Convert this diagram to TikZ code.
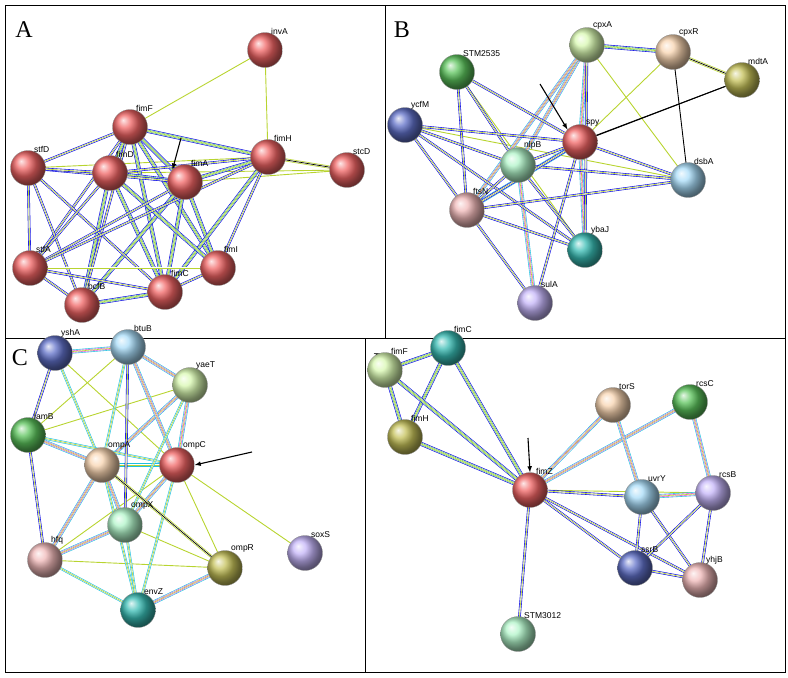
\documentclass[tikz,border=0pt]{standalone}
\usepackage{fontspec}
\setmainfont{Liberation Serif}
\newfontfamily\labfont{Liberation Sans}
\begin{document}
\definecolor{cR}{HTML}{F06464}\definecolor{cLG}{HTML}{D8F8B0}\definecolor{cTan}{HTML}{F8D4B0}
\definecolor{cOl}{HTML}{C4C058}\definecolor{cG}{HTML}{5CC45C}\definecolor{cNv}{HTML}{6070C8}
\definecolor{cMint}{HTML}{B0F4C8}\definecolor{cLB}{HTML}{A8DCF8}\definecolor{cPk}{HTML}{F0B8B8}
\definecolor{cTl}{HTML}{38BCB4}\definecolor{cLv}{HTML}{C4B4F8}
\definecolor{tm}{HTML}{B8D430}\definecolor{co}{HTML}{0000E0}\definecolor{nb}{HTML}{20B040}
\definecolor{ex}{HTML}{D020D0}\definecolor{db}{HTML}{20C0E0}
\begin{tikzpicture}[x=1pt,y=-1pt,
 ball/.style={circle,minimum size=35pt,inner sep=0pt,draw=black!45,line width=0.3pt,ball color=#1},
 lab/.style={font=\labfont\fontsize{8.5}{9}\selectfont,inner sep=0pt,anchor=south west},
 ey/.style={draw=tm,line width=0.9pt},
 eb/.style={draw=co,line width=0.9pt},
 ek/.style={draw=black,line width=0.9pt},
 eky/.style={draw=tm,line width=3pt,postaction={draw=white,line width=1.6pt},postaction={draw=black,line width=0.7pt}},
 mb/.style={draw=co,line width=4pt,postaction={draw=white,line width=2.8pt},postaction={draw=nb,line width=2pt},postaction={draw=white,line width=1.2pt},postaction={draw=tm,line width=0.6pt}},
 mc/.style={draw=db,line width=4pt,postaction={draw=white,line width=2.8pt},postaction={draw=ex,line width=2pt},postaction={draw=white,line width=1.2pt},postaction={draw=tm,line width=0.6pt}},
 by/.style={draw=co,line width=2.6pt,postaction={draw=white,line width=1.4pt},postaction={draw=tm,line width=0.6pt}},
 cy/.style={draw=db,line width=2.6pt,postaction={draw=white,line width=1.4pt},postaction={draw=tm,line width=0.6pt}},
 arr/.style={-latex,line width=1.1pt}]
\useasboundingbox (0,0) rectangle (788,678);
\draw[line width=0.6pt] (5,5) rectangle (785,672);
\draw[line width=0.6pt] (385,5) -- (385,338) (5,338) -- (785,338) (365,338) -- (365,672);
\node[font=\fontsize{24}{24}\selectfont] at (24,30) {A};
\node[font=\fontsize{24}{24}\selectfont] at (402,30) {B};
\node[font=\fontsize{24}{24}\selectfont] at (20,358) {C};
\node[font=\fontsize{24}{24}\selectfont] at (382,362) {D};
% ---------- A
\foreach \n/\x/\y in {invA/265/50,fimF/130/127,fimH/268/157,stfD/28/168,fimD/110/173,fimA/185/182,stcD/347/170,stfA/30/268,fimI/218/268,fimC/165/292,bcfB/82/305}
 \coordinate (\n) at (\x,\y);
\foreach \a/\b in {invA/fimF,invA/fimH,fimA/stcD,fimD/stcD,stfD/fimH}\draw[ey] (\a)--(\b);
\draw[eky] (fimH)--(stcD);
\foreach \a/\b in {fimF/fimH,fimF/fimA,fimF/fimD,fimF/fimC,fimF/fimI,fimD/fimA,fimD/fimC,fimA/fimH,fimA/fimC,fimA/fimI,fimD/bcfB,fimA/bcfB,fimH/fimC,fimD/fimI,fimC/bcfB}\draw[mb] (\a)--(\b);
\foreach \a/\b in {fimF/stfD,fimF/stfA,fimF/bcfB,stfD/fimA,stfD/fimD,stfD/stfA,stfD/bcfB,stfD/fimC,fimD/stfA,fimD/fimH,fimA/stfA,fimH/fimI,stfA/fimC,stfA/bcfB,stfA/fimI,fimC/fimI,fimH/stfA}\draw[by] (\a)--(\b);
\foreach \n in {invA,fimF,fimH,stfD,fimD,fimA,stcD,stfA,fimI,fimC,bcfB}{
 \node[ball=cR] (b\n) at (\n) {};
 \node[lab] (l\n) at ([xshift=6pt,yshift=-2pt]b\n.north) {\n};}
\coordinate (aA) at (181,138);
\draw[arr] (aA) -- (bfimA.north west);
% ---------- B
\foreach \n/\x/\y in {cpxA/587/45,cpxR/673/52,mdtA/742/80,STM2535/457/72,ycfM/405/125,spy/580/142,nlpB/518/165,dsbA/688/180,ftsN/467/210,ybaJ/585/250,sulA/535/303}
 \coordinate (\n) at (\x,\y);
\foreach \a/\b in {cpxR/spy,cpxA/dsbA,ycfM/dsbA,STM2535/ybaJ}\draw[ey] (\a)--(\b);
\foreach \a/\b in {mdtA/spy,cpxR/dsbA,mdtA/nlpB}\draw[ek] (\a)--(\b);
\draw[eky] (cpxR)--(mdtA);
\draw[mb] (cpxA)--(cpxR);
\foreach \a/\b in {cpxA/nlpB,cpxA/ftsN,cpxA/spy,spy/ybaJ,spy/ftsN,nlpB/sulA}\draw[mc] (\a)--(\b);
\foreach \a/\b in {cpxA/ybaJ,STM2535/spy,STM2535/nlpB,STM2535/ftsN,ycfM/spy,ycfM/nlpB,ycfM/ftsN,ycfM/ybaJ,spy/nlpB,spy/dsbA,spy/sulA,nlpB/dsbA,nlpB/ftsN,nlpB/ybaJ,ftsN/dsbA,ftsN/ybaJ,ftsN/sulA,ftsN/spy}\draw[by] (\a)--(\b);
\foreach \n/\c in {cpxA/cLG,cpxR/cTan,mdtA/cOl,STM2535/cG,ycfM/cNv,spy/cR,nlpB/cMint,dsbA/cLB,ftsN/cPk,ybaJ/cTl,sulA/cLv}{
 \node[ball=\c] (b\n) at (\n) {};
 \node[lab] (l\n) at ([xshift=6pt,yshift=-2pt]b\n.north) {\n};}
\coordinate (aB) at (540,84);
\draw[arr] (aB) -- (bspy.north west);
% ---------- C
\foreach \n/\x/\y in {yshA/55/353,btuB/128/347,yaeT/190/385,lamB/28/435,ompA/102/465,ompC/177/465,soxS/305/553,ompX/125/525,hfq/45/560,ompR/225/568,envZ/138/610}
 \coordinate (\n) at (\x,\y);
\foreach \a/\b in {yshA/lamB,lamB/hfq,lamB/yaeT,ompC/soxS,ompC/ompR,ompA/ompR,hfq/ompR,hfq/ompC,yshA/ompC,btuB/lamB,ompX/ompR}\draw[ey] (\a)--(\b);
\foreach \a/\b in {yshA/btuB,btuB/yaeT,yaeT/ompA,yaeT/ompC,ompA/ompC,ompA/ompX,ompC/ompX,ompR/envZ,lamB/ompA,btuB/ompC,ompA/hfq,ompX/hfq}\draw[mc] (\a)--(\b);
\foreach \a/\b in {yshA/ompA,btuB/ompA,lamB/ompC,ompA/envZ,ompX/envZ,ompC/envZ,hfq/envZ,yaeT/ompX}\draw[cy] (\a)--(\b);
\foreach \a/\b in {btuB/ompX,yshA/lamB,lamB/hfq}\draw[by] (\a)--(\b);
\draw[eky] (ompA)--(ompR);
\foreach \n/\c in {yshA/cNv,btuB/cLB,yaeT/cLG,lamB/cG,ompA/cTan,ompC/cR,soxS/cLv,ompX/cMint,hfq/cPk,ompR/cOl,envZ/cTl}{
 \node[ball=\c] (b\n) at (\n) {};
 \node[lab] (l\n) at ([xshift=6pt,yshift=-2pt]b\n.north) {\n};}
\coordinate (aC) at (252,452);
\draw[arr] (aC) -- (bompC.east);
% ---------- D
\foreach \n/\x/\y in {fimC/448/348,fimF/385/370,fimH/405/437,fimZ/530/490,torS/613/405,rcsC/690/402,uvrY/642/497,rcsB/713/493,ssrB/635/568,yhjB/700/580,STM3012/518/634}
 \coordinate (\n) at (\x,\y);
\foreach \a/\b in {fimZ/rcsB}\draw[ey] (\a)--(\b);
\foreach \a/\b in {fimC/fimF,fimC/fimH,fimF/fimH,fimC/fimZ,fimF/fimZ,fimH/fimZ}\draw[mb] (\a)--(\b);
\foreach \a/\b in {fimZ/torS,fimZ/rcsC,torS/uvrY,rcsC/rcsB,uvrY/rcsB}\draw[mc] (\a)--(\b);
\foreach \a/\b in {fimZ/uvrY,fimZ/ssrB,fimZ/yhjB,uvrY/ssrB,uvrY/yhjB,rcsB/ssrB,rcsB/yhjB,ssrB/yhjB,fimZ/STM3012}\draw[by] (\a)--(\b);
\foreach \n/\c in {fimC/cTl,fimF/cLG,fimH/cOl,fimZ/cR,torS/cTan,rcsC/cG,uvrY/cLB,rcsB/cLv,ssrB/cNv,yhjB/cPk,STM3012/cMint}{
 \node[ball=\c] (b\n) at (\n) {};
 \node[lab] (l\n) at ([xshift=6pt,yshift=-2pt]b\n.north) {\n};}
\coordinate (aD) at (528,438);
\draw[arr] (aD) -- (bfimZ.north);
\end{tikzpicture}
\end{document}
